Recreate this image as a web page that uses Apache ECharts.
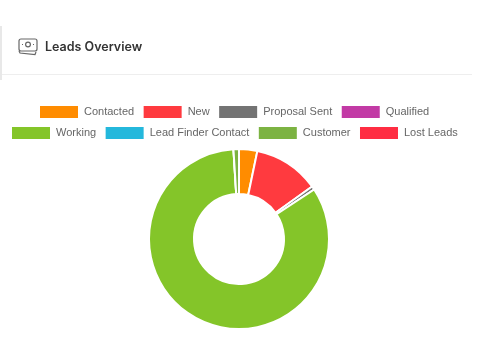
<!DOCTYPE html>
<html>
<head>
<meta charset="utf-8">
<style>
  html, body { margin: 0; padding: 0; background: #fff; }
  #chart { width: 480px; height: 360px; }
</style>
<script src="https://cdn.jsdelivr.net/npm/echarts@6/dist/echarts.min.js"></script>
</head>
<body>
<div id="chart"></div>
<script>
// values
const categories = ['Contacted', 'New', 'Proposal Sent', 'Qualified', 'Working', 'Lead Finder Contact', 'Customer', 'Lost Leads']
const leadCounts = [10, 36, 2, 0, 254, 0, 3, 0]
const sliceColors = ['#ff8c00', '#ff3a3f', '#737373', '#c23aa5', '#84c529', '#24b8dc', '#7cb342', '#ff2d42']
const legendRowOne = categories.slice(0, 4)
const legendRowTwo = categories.slice(4)

const iconStyle = { fill: 'none', stroke: '#666', lineWidth: 1.2 }
const legendBase = {
  padding: 0,
  width: 470,
  itemWidth: 38,
  itemHeight: 12,
  itemGap: 9.5,
  icon: 'rect',
  itemStyle: { borderWidth: 0 },
  textStyle: { fontFamily: 'Liberation Sans', fontSize: 11, color: '#666', padding: [0, 0, 0, 1] }
}

const chart = echarts.init(document.getElementById('chart'), null, { renderer: 'canvas' })
chart.setOption({
  animation: false,
  title: {
    text: 'Leads Overview',
    left: 40,
    top: 36,
    textStyle: { fontFamily: 'Inter', fontSize: 12.5, fontWeight: 600, color: '#333' }
  },
  graphic: [
    // card edge + header divider
    { type: 'rect', shape: { x: 0, y: 26, width: 2, height: 54 }, style: { fill: '#e8e8e8' } },
    { type: 'line', shape: { x1: 2, y1: 74.5, x2: 472, y2: 74.5 }, style: { stroke: '#eeeeee', lineWidth: 1 } },
    // banknote icon
    { type: 'rect', shape: { x: 19, y: 39, width: 18, height: 12, r: 2 }, style: iconStyle },
    { type: 'circle', shape: { cx: 28, cy: 44.5, r: 2.4 }, style: iconStyle },
    { type: 'line', shape: { x1: 22, y1: 44.5, x2: 23, y2: 44.5 }, style: iconStyle },
    { type: 'line', shape: { x1: 33, y1: 44.5, x2: 34, y2: 44.5 }, style: iconStyle },
    { type: 'polyline', shape: { points: [[19, 51], [20, 53], [35, 54.5], [36, 52]] }, style: iconStyle }
  ],
  legend: [
    { ...legendBase, left: 40, top: 106, data: legendRowOne },
    { ...legendBase, left: 12, top: 127, data: legendRowTwo }
  ],
  series: [
    {
      type: 'pie',
      center: [239, 239],
      radius: [45, 90],
      startAngle: 90,
      clockwise: true,
      label: { show: false },
      labelLine: { show: false },
      itemStyle: { borderColor: '#fff', borderWidth: 2 },
      data: categories.map((name, i) => ({
        name,
        value: leadCounts[i],
        itemStyle: { color: sliceColors[i] }
      }))
    }
  ]
})
</script>
</body>
</html>
